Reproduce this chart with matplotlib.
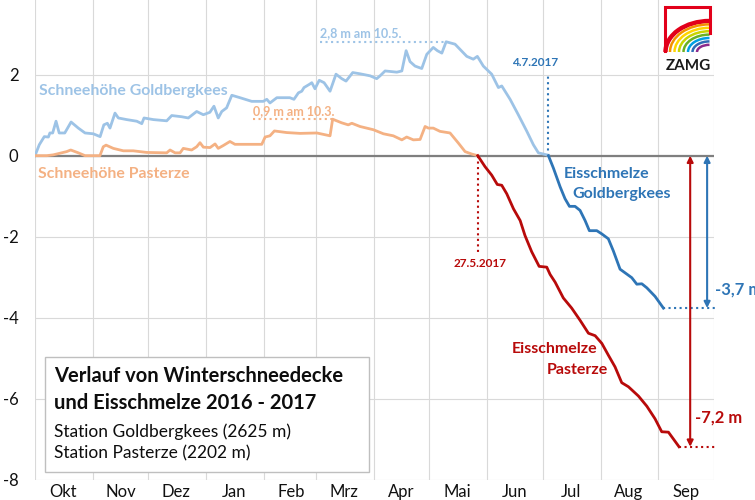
import numpy as np
import pandas as pd
import matplotlib
matplotlib.use('Agg')
import matplotlib.pyplot as plt
from matplotlib.patches import Rectangle, Arc

plt.rcParams['font.family'] = ['Lato', 'DejaVu Sans']

# Tage seit 1.10.2016 und Werte in m
start = pd.Timestamp('2016-10-01')

gb_schnee_tag = [0, 2.3, 5, 7.2, 8, 9.5, 11.3, 13, 16, 19.4, 23.3, 26.9, 31.3, 35, 37, 38.9, 40.3, 43, 44.8,
                 49.3, 54.7, 57.4, 58.6, 63.6, 70.8, 73.5, 78.9, 82.4, 86.9, 90.5, 94, 96.2, 98.5, 100.4, 103,
                 105.8, 110.2, 116.5, 122.7, 124.6, 126.3, 130, 137, 139.2, 141.6, 143.4, 144.6, 147.5, 148.8,
                 150.5, 152.8, 155.4, 158.6, 161.8, 164.9, 167.2, 170.8, 174.7, 180.1, 183.7, 185.5, 188.2,
                 194.5, 197.2, 199.5, 201.6, 204.3, 207.9, 210.6, 214.1, 216.3, 218.7, 221, 225.8, 232.1,
                 235.6, 237.8, 241, 245.5, 249.1, 250.9, 255.4, 259.8, 264.4, 267.9, 270.6, 275.1, 276]
gb_schnee_m = [0.0, 0.27, 0.47, 0.46, 0.56, 0.56, 0.85, 0.56, 0.56, 0.83, 0.68, 0.56, 0.54, 0.47, 0.76, 0.80,
               0.68, 1.05, 0.93, 0.89, 0.85, 0.79, 0.93, 0.89, 0.86, 0.99, 0.96, 0.93, 1.09, 1.01, 1.07, 1.22,
               0.93, 1.09, 1.18, 1.49, 1.43, 1.34, 1.34, 1.39, 1.30, 1.43, 1.43, 1.39, 1.55, 1.59, 1.68, 1.76,
               1.80, 1.65, 1.86, 1.80, 1.59, 2.01, 1.90, 1.84, 2.05, 2.02, 1.97, 1.90, 1.97, 2.09, 2.06, 2.09,
               2.59, 2.32, 2.21, 2.15, 2.50, 2.67, 2.59, 2.53, 2.81, 2.75, 2.45, 2.38, 2.45, 2.21, 2.01, 1.68,
               1.72, 1.39, 1.01, 0.60, 0.27, 0.07, 0.02, 0.0]

pz_schnee_tag = [0, 6.3, 9.8, 17, 19.2, 23.3, 26.9, 34.9, 36.7, 38.2, 42.1, 47.5, 52.8, 60, 70.8, 72.6, 75.3,
                 78, 79.7, 84.2, 86.9, 88.7, 90.5, 94.1, 96.8, 98.5, 101.2, 104.8, 107.5, 121.9, 123.7, 126.3,
                 128.7, 135.3, 142.5, 151.5, 158.6, 160, 164.9, 168.4, 170.3, 174.7, 181.9, 187.3, 192.6,
                 197.2, 199.8, 203.4, 207, 209.7, 211.5, 214.1, 217.7, 223.1, 227.6, 231.2, 234.8, 238]
pz_schnee_m = [0, 0, 0.02, 0.10, 0.14, 0.07, 0, 0, 0.22, 0.26, 0.18, 0.12, 0.12, 0.08, 0.07, 0.14, 0.07,
               0.07, 0.18, 0.14, 0.22, 0.32, 0.21, 0.20, 0.29, 0.18, 0.25, 0.35, 0.28, 0.28, 0.46, 0.49,
               0.61, 0.57, 0.55, 0.56, 0.49, 0.90, 0.81, 0.76, 0.80, 0.72, 0.64, 0.54, 0.49, 0.39, 0.46,
               0.39, 0.40, 0.72, 0.68, 0.68, 0.60, 0.56, 0.31, 0.10, 0.04, 0]

pz_eis_tag = [238, 241.9, 245.5, 248.5, 250.9, 253.6, 257.2, 260.8, 263.4, 267, 271, 275.1, 276.9, 279.6,
              284, 288.5, 293, 297.5, 301.1, 304.7, 308.2, 311.8, 315.4, 319, 324.4, 328.9, 333.3, 336.9,
              340.5, 343.2, 346.2]
pz_eis_m = [0, -0.27, -0.48, -0.71, -0.73, -0.94, -1.31, -1.60, -1.97, -2.37, -2.73, -2.75, -2.93, -3.12,
            -3.51, -3.76, -4.06, -4.38, -4.44, -4.63, -4.92, -5.21, -5.60, -5.70, -5.93, -6.18, -6.49, -6.81,
            -6.82, -6.99, -7.18]

gb_eis_tag = [276, 278.7, 282.3, 284.9, 287.3, 290.3, 293, 295.7, 298, 302, 304.7, 308.2, 310.9, 314.5,
              317.2, 320.8, 323.5, 326.2, 328.9, 333.3, 337.8]
gb_eis_m = [0, -0.31, -0.77, -1.06, -1.25, -1.25, -1.35, -1.60, -1.85, -1.85, -1.93, -2.05, -2.35, -2.80,
            -2.89, -3.01, -3.17, -3.16, -3.26, -3.47, -3.76]

monate = ['Okt', 'Nov', 'Dez', 'Jan', 'Feb', 'Mrz', 'Apr', 'Mai', 'Jun', 'Jul', 'Aug', 'Sep']
y_ticks = [-8, -6, -4, -2, 0, 2]

hellblau = '#9DC3E6'
orange = '#F4B183'
rot = '#B80A0A'
blau = '#2E75B6'


def d(tage):
    return start + pd.to_timedelta(np.atleast_1d(np.asarray(tage, dtype=float)), unit='D')


def t(tag):
    return d(tag)[0]


fig = plt.figure(figsize=(7.55, 5), dpi=100)
ax = fig.add_axes([35/755, 20/500, 679/755, 480/500])

ax.set_xlim(t(0), t(365))
ax.set_ylim(-8, 3.84)
for s in ax.spines.values():
    s.set_visible(False)

# Gitter: Monatsanfang senkrecht, Labels in Monatsmitte
ax.set_xticks(pd.date_range('2016-10-01', '2017-10-01', freq='MS'))
ax.set_xticklabels([])
ax.set_xticks(pd.date_range('2016-10-01', '2017-09-01', freq='MS') + pd.Timedelta(days=15), minor=True)
ax.set_xticklabels(monate, minor=True)
ax.set_yticks(y_ticks)
ax.set_yticklabels([str(v) for v in y_ticks])
ax.tick_params(which='both', length=0, labelsize=12, colors='#111111')
ax.tick_params(axis='y', pad=12)
ax.tick_params(axis='x', which='minor', pad=3)
ax.grid(True, which='major', color='#D9D9D9', lw=0.8)
ax.set_axisbelow(True)
ax.axhline(0, color='#7F7F7F', lw=1.6, zorder=2)

ax.plot(d(gb_schnee_tag), gb_schnee_m, color=hellblau, lw=2, zorder=3)
ax.plot(d(pz_schnee_tag), pz_schnee_m, color=orange, lw=2, zorder=3)
ax.plot(d(pz_eis_tag), pz_eis_m, color=rot, lw=2, zorder=3)
ax.plot(d(gb_eis_tag), gb_eis_m, color=blau, lw=2, zorder=3)

# Maxima
i_gb = int(np.argmax(gb_schnee_m))
i_pz = int(np.argmax(pz_schnee_m))
ax.plot(d([153, gb_schnee_tag[i_gb]]), [gb_schnee_m[i_gb]] * 2, ls=':', color=hellblau, lw=1.5)
ax.text(t(153), 3.03, '2,8 m am 10.5.', color=hellblau, fontsize=9, fontweight='bold', va='center')
ax.plot(d([117, pz_schnee_tag[i_pz]]), [pz_schnee_m[i_pz]] * 2, ls=':', color=orange, lw=1.5)
ax.text(t(117), 1.11, '0,9 m am 10.3.', color=orange, fontsize=9, fontweight='bold', va='center')

# Beginn Eisschmelze
ax.plot(d([gb_eis_tag[0]] * 2), [0, 1.99], ls=':', color=blau, lw=1.5)
ax.text(t(269), 2.29, '4.7.2017', color=blau, fontsize=8.5, fontweight='bold', ha='center', va='center')
ax.plot(d([pz_eis_tag[0]] * 2), [0, -2.4], ls=':', color=rot, lw=1.5)
ax.text(t(239), -2.65, '27.5.2017', color=rot, fontsize=8.5, fontweight='bold', ha='center', va='center')

# Beschriftung der Kurven
ax.text(t(2.2), 1.6, 'Schneehöhe Goldbergkees', color=hellblau, fontsize=11.4, fontweight='bold', va='center')
ax.text(t(1.6), -0.45, 'Schneehöhe Pasterze', color=orange, fontsize=11.4, fontweight='bold', va='center')
ax.text(t(284.4), -0.45, 'Eisschmelze', color=blau, fontsize=11.5, fontweight='bold', va='center')
ax.text(t(288.7), -0.94, 'Goldbergkees', color=blau, fontsize=11.5, fontweight='bold', va='center')
ax.text(t(256.5), -4.77, 'Eisschmelze', color=rot, fontsize=11.5, fontweight='bold', va='center')
ax.text(t(275.3), -5.29, 'Pasterze', color=rot, fontsize=11.5, fontweight='bold', va='center')

# Endwerte mit Pfeilen
ax.plot(d([pz_eis_tag[-1], 365.5]), [pz_eis_m[-1]] * 2, ls=':', color=rot, lw=1.5, clip_on=False)
ax.plot(d([gb_eis_tag[-1], 365.5]), [gb_eis_m[-1]] * 2, ls=':', color=blau, lw=1.5, clip_on=False)
ax.annotate('', xy=(t(352.2), 0), xytext=(t(352.2), pz_eis_m[-1]),
            arrowprops=dict(arrowstyle='<|-|>', color=rot, lw=1.5, mutation_scale=9, shrinkA=0, shrinkB=0))
ax.annotate('', xy=(t(361.3), 0), xytext=(t(361.3), gb_eis_m[-1]),
            arrowprops=dict(arrowstyle='<|-|>', color=blau, lw=1.5, mutation_scale=9, shrinkA=0, shrinkB=0))
ax.text(t(365.6), -3.29, '-3,7 m', color=blau, fontsize=12, fontweight='bold', va='center', clip_on=False)
ax.text(t(354.8), -6.45, '-7,2 m', color=rot, fontsize=12, fontweight='bold', va='center')

# Titelbox
fig.patches.append(Rectangle((45/755, 28/500), 324/755, 115/500, transform=fig.transFigure,
                             facecolor='white', edgecolor='#BFBFBF', lw=1, zorder=5))
fig.text(54/755, 1 - 376/500, 'Verlauf von Winterschneedecke', fontsize=14.5, fontweight='bold',
         va='center', color='#0d0d0d', zorder=6)
fig.text(54/755, 1 - 403/500, 'und Eisschmelze 2016 - 2017', fontsize=14.5, fontweight='bold',
         va='center', color='#0d0d0d', zorder=6)
fig.text(54/755, 1 - 432/500, 'Station Goldbergkees (2625 m)', fontsize=12.5, va='center',
         color='#0d0d0d', zorder=6)
fig.text(54/755, 1 - 453/500, 'Station Pasterze (2202 m)', fontsize=12.5, va='center',
         color='#0d0d0d', zorder=6)

# ZAMG Logo
lg = fig.add_axes([662/755, 1 - 75/500, 52/755, 73/500])
lg.set_xlim(0, 52)
lg.set_ylim(0, 73)
lg.axis('off')
lg.plot([2.5, 2.5, 47.5, 47.5], [24, 68.5, 68.5, 42], color='#E2001A', lw=2.2, solid_joinstyle='miter')
bogen = ['#E2001A', '#F39200', '#FFD500', '#C8D400', '#6AB023', '#009FE3', '#2F6CB5', '#8B2A8C']
for k, c in enumerate(bogen):
    w = 2 * (44 - k * 4.5)
    h = 2 * (31 - k * 3.4)
    lg.add_patch(Arc((47.5, 23), w, h, theta1=90, theta2=180, color=c, lw=3.2 if k == 0 else 1.8))
lg.text(26, 9, 'ZAMG', fontsize=11, fontweight='bold', ha='center', va='center', color='#1a1a1a')

fig.savefig('out.png', dpi=100)
